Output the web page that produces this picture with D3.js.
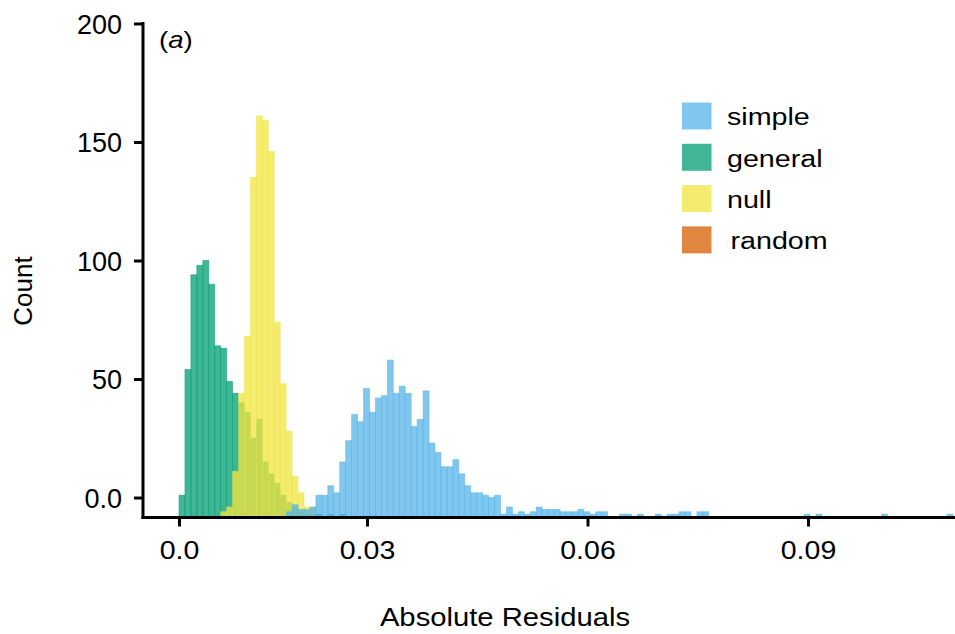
<!DOCTYPE html>
<html lang="en">
    <head>
        <meta charset="utf-8">
        <title>Absolute Residuals</title>
        <script type="text/javascript" src="https://d3js.org/d3.v7.min.js"></script>
        <style type="text/css">
            body {
                margin: 0;
                background: white;
            }
            svg {
                display: block;
            }
            text {
                font-family: "Liberation Sans", Arial, sans-serif;
                fill: black;
            }
        </style>
    </head>
    <body>
        <script type="text/javascript">

        // legend / series
        const categories = ["simple", "general", "null", "random"];
        const colors = ["#56B4E9", "#009E73", "#F0E442", "#D55E00"];

        // histogram bins (same bin grid for every series)
        const binStart = 0.00442;
        const binWidth = 0.00081;

        // counts per bin, each series starts at its own bin index
        const generalStart = 0;
        const generalCounts = [9, 62, 102, 106, 108, 98, 72, 71, 57, 52, 48, 44, 33, 41, 23, 18, 14, 9, 6, 4,
                               2, 1, 1, 1, 0, 1, 0, 1];

        const nullStart = 7;
        const nullCounts = [2, 4, 19, 52, 76, 143, 169, 167, 154, 82, 56, 36, 17, 10, 4, 4];

        const simpleStart = 18;
        const simpleCounts = [2, 5, 3, 3, 4,
                              9, 9, 13, 10, 23, 32, 43, 40, 54, 44, 50, 51, 66, 52, 55, 52, 38, 41, 53, 31,
                              27, 21, 21, 24, 18, 13, 10, 10, 9, 8, 9, 1, 4,
                              1, 2, 1, 2, 4, 3, 3, 3, 2, 2, 2, 3, 2, 1, 2, 2,
                              0, 0, 1, 1, 0, 1, 0, 0, 1, 0, 1, 1, 2, 2, 0, 2, 2,
                              0, 0, 0, 0, 0, 0, 0, 0, 0, 0, 0, 0, 0, 0, 0, 0, 1, 0, 1, 0,
                              0, 0, 0, 0, 0, 0, 0, 0, 0, 1, 0, 0, 0, 0, 0, 0, 0, 0, 0, 0, 1];

        const randomStart = 0;
        const randomCounts = [];

        // axis ticks
        const xTickValues = [0.00442, 0.03, 0.06, 0.09];
        const xTickLabels = ["0.0", "0.03", "0.06", "0.09"];
        const yTickValues = [8, 58, 108, 158, 208];
        const yTickLabels = ["0.0", "50", "100", "150", "200"];

        const width = 955;
        const height = 634;

        const xScale = d3.scaleLinear()
                        .domain([0.03, 0.09])
                        .range([367, 808]);

        const yScale = d3.scaleLinear()
                        .domain([0, 208])
                        .range([516.5, 23.5]);

        const color = d3.scaleOrdinal()
                        .domain(categories)
                        .range(colors);

        const svg = d3.select("body")
                    .append("svg")
                    .attr("width", width)
                    .attr("height", height);

        function toBins(start, counts) {
            return counts.map((c, i) => ({
                x0: binStart + (start + i) * binWidth,
                x1: binStart + (start + i + 1) * binWidth,
                count: c
            })).filter(d => d.count > 0);
        }

        // draw order: general, null, simple (random has no bars)
        const series = [
            {name: "general", bins: toBins(generalStart, generalCounts)},
            {name: "null", bins: toBins(nullStart, nullCounts)},
            {name: "simple", bins: toBins(simpleStart, simpleCounts)},
            {name: "random", bins: toBins(randomStart, randomCounts)}
        ];

        series.forEach(s => {
            svg.append("g")
                .selectAll("rect")
                .data(s.bins)
                .enter()
                .append("rect")
                .attr("x", d => xScale(d.x0))
                .attr("y", d => yScale(d.count))
                .attr("width", d => xScale(d.x1) - xScale(d.x0))
                .attr("height", d => yScale(0) - yScale(d.count))
                .attr("fill", color(s.name))
                .attr("fill-opacity", 0.75)
                .attr("stroke", color(s.name))
                .attr("stroke-opacity", 0.6)
                .attr("stroke-width", 0.8);
        });

        //x axis
        const bottomAxis = d3.axisBottom(xScale)
                            .tickValues(xTickValues)
                            .tickFormat((d, i) => xTickLabels[i])
                            .tickSize(9)
                            .tickPadding(15);

        const gx = svg.append("g")
            .attr("transform", "translate(0,517.5)")
            .call(bottomAxis);
        gx.select(".domain").remove();
        gx.selectAll(".tick line").attr("stroke", "black").attr("stroke-width", 3);
        gx.selectAll(".tick text")
            .style("font-family", "Liberation Sans, Arial, sans-serif")
            .style("font-size", "25px")
            .attr("transform", "scale(1.14,1)");

        //y axis
        const leftAxis = d3.axisLeft(yScale)
                            .tickValues(yTickValues)
                            .tickFormat((d, i) => yTickLabels[i])
                            .tickSize(9)
                            .tickPadding(12);

        const gy = svg.append("g")
            .attr("transform", "translate(143,0)")
            .call(leftAxis);
        gy.select(".domain").remove();
        gy.selectAll(".tick line").attr("stroke", "black").attr("stroke-width", 3);
        gy.selectAll(".tick text")
            .style("font-family", "Liberation Sans, Arial, sans-serif")
            .style("font-size", "27px")
            .attr("dy", "0.36em");

        // axis lines
        svg.append("line")
            .attr("x1", 143).attr("x2", 143)
            .attr("y1", 22).attr("y2", 519)
            .attr("stroke", "black").attr("stroke-width", 3);
        svg.append("line")
            .attr("x1", 141.5).attr("x2", width)
            .attr("y1", 517.5).attr("y2", 517.5)
            .attr("stroke", "black").attr("stroke-width", 3);

        // legend
        const legend = svg.append("g").attr("transform", "translate(682,102.5)");
        const rows = legend.selectAll("g")
            .data(categories)
            .enter()
            .append("g")
            .attr("transform", (d, i) => "translate(0," + (i * 41.3) + ")");
        rows.append("rect")
            .attr("width", 29.5)
            .attr("height", 27)
            .attr("fill", d => color(d))
            .attr("fill-opacity", 0.75);
        rows.append("text")
            .attr("x", 45)
            .attr("y", 23)
            .attr("transform", "scale(1.17,1)")
            .attr("dx", (d, i) => i === 3 ? 3 : 0)
            .style("font-size", "24.5px")
            .text(d => d);
        rows.selectAll("text").attr("x", 45 / 1.17);

        // panel tag
        svg.append("text")
            .attr("x", 159 / 1.2)
            .attr("y", 48.5)
            .attr("transform", "scale(1.2,1)")
            .style("font-size", "23px")
            .html("(<tspan font-style='italic'>a</tspan>)");

        // axis titles
        svg.append("text")
            .attr("text-anchor", "middle")
            .attr("x", 505 / 1.17)
            .attr("y", 626)
            .attr("transform", "scale(1.17,1)")
            .style("font-size", "25px")
            .text("Absolute Residuals");

        svg.append("text")
            .attr("text-anchor", "middle")
            .attr("transform", "translate(32,291) rotate(-90)")
            .style("font-size", "26px")
            .text("Count");

        </script>
    </body>
</html>
